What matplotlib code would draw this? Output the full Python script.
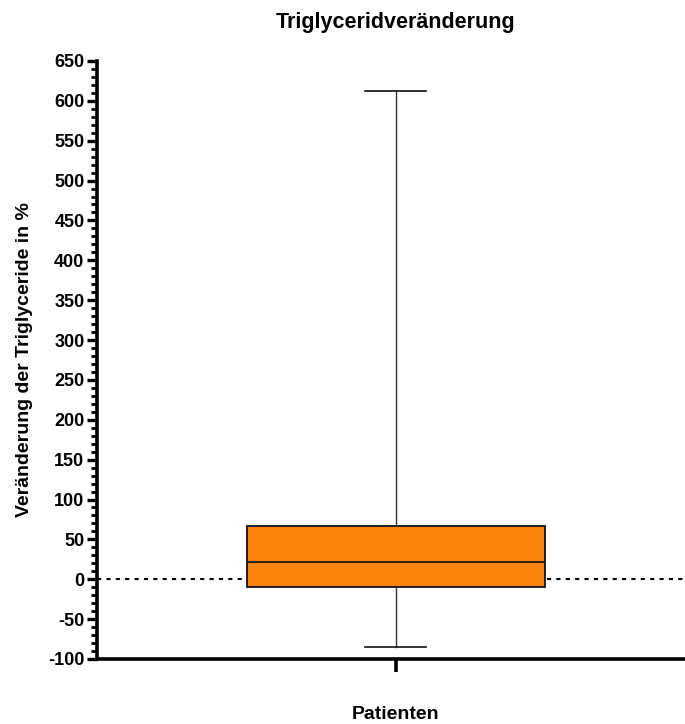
import numpy as np
import matplotlib
matplotlib.use("Agg")
import matplotlib.pyplot as plt
from matplotlib.ticker import MultipleLocator

# Box summary (percent change)
group = ["Patienten"]
whisker_low = [-85]
q1 = [-10]
median = [22]
q3 = [67]
whisker_high = [612]

plt.rcParams['font.family'] = ['Liberation Sans', 'DejaVu Sans']
plt.rcParams['font.weight'] = 'bold'
plt.rcParams['axes.unicode_minus'] = False

fig = plt.figure(figsize=(6.85, 7.24), dpi=100)
ax = fig.add_axes([0.1416, 0.0898, 0.8584, 0.826])

stats = []
for i in range(len(group)):
    stats.append(dict(label=group[i], whislo=whisker_low[i], q1=q1[i],
                      med=median[i], q3=q3[i], whishi=whisker_high[i]))

ax.bxp(stats, positions=[0], widths=1.0, patch_artist=True, showfliers=False,
       boxprops=dict(facecolor='#fc830e', edgecolor='#111111', linewidth=1.3),
       medianprops=dict(color='#111111', linewidth=1.2),
       whiskerprops=dict(color='#333333', linewidth=1.0),
       capprops=dict(color='#111111', linewidth=1.2),
       capwidths=0.205, zorder=3)

# dotted zero line
ax.axhline(0, color='black', linestyle=(0, (2, 2.5)), linewidth=1.5, zorder=2)

ax.set_xlim(-1.003, 0.97)
ax.set_ylim(-100, 650)
ax.yaxis.set_major_locator(MultipleLocator(50))
ax.yaxis.set_minor_locator(MultipleLocator(10))
ax.set_xticks([0])
ax.set_xticklabels([''])

for s in ['top', 'right']:
    ax.spines[s].set_visible(False)
for s in ['left', 'bottom']:
    ax.spines[s].set_linewidth(2.6)

ax.tick_params(axis='y', which='major', length=7, width=2.4, labelsize=13, pad=2)
ax.tick_params(axis='y', which='minor', length=4.5, width=2.0)
ax.tick_params(axis='x', which='major', length=9, width=2.6)
for lab in ax.get_yticklabels():
    lab.set_fontweight('bold')

ax.set_title('Triglyceridveränderung', fontsize=15.5, fontweight='bold', pad=24, x=0.508)
ax.set_ylabel('Veränderung der Triglyceride in %', fontsize=14, fontweight='bold', labelpad=11)
ax.set_xlabel('Patienten', fontsize=14, fontweight='bold', labelpad=21)
ax.xaxis.label.set_x(0.508)

fig.savefig('out.png', dpi=100)
